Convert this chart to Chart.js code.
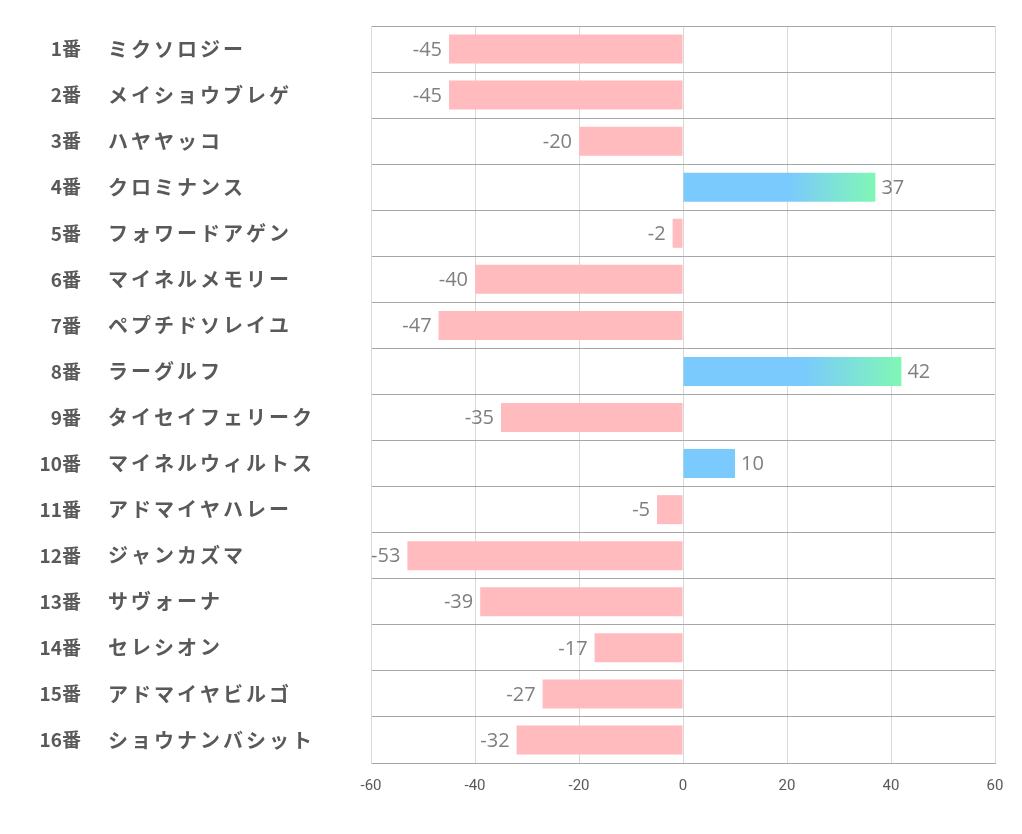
<!DOCTYPE html>
<html>
<head>
<meta charset="utf-8">
<script src="https://cdn.jsdelivr.net/npm/chart.js@4.4.1/dist/chart.umd.min.js"></script>
<style>
html,body{margin:0;padding:0;background:#fff;}
#wrap{width:1022px;height:834px;position:relative;}
</style>
</head>
<body>
<div id="wrap"><canvas id="c" width="1022" height="834"></canvas></div>
<script>
const numbers = ["1番","2番","3番","4番","5番","6番","7番","8番","9番","10番","11番","12番","13番","14番","15番","16番"];
const names = ["ミクソロジー","メイショウブレゲ","ハヤヤッコ","クロミナンス","フォワードアゲン","マイネルメモリー","ペプチドソレイユ","ラーグルフ","タイセイフェリーク","マイネルウィルトス","アドマイヤハレー","ジャンカズマ","サヴォーナ","セレシオン","アドマイヤビルゴ","ショウナンバシット"];
const values = [-45,-45,-20,37,-2,-40,-47,42,-35,10,-5,-53,-39,-17,-27,-32];
const xTicks = [-60,-40,-20,0,20,40,60];

const labels = numbers.map((n,i)=>n+"　"+names[i]);
const BLUE = "#7ACAFD", GREEN = "#80F7B5", PINK = "#FFBBBD";

function barColor(ctx){
  const v = ctx.raw;
  if (v < 0) return PINK;
  const chart = ctx.chart;
  const xs = chart.scales.x;
  if (!xs || v < 20) return BLUE;
  const x0 = xs.getPixelForValue(0), x1 = xs.getPixelForValue(v);
  const g = chart.ctx.createLinearGradient(x0,0,x1,0);
  g.addColorStop(0, BLUE);
  g.addColorStop(0.55, BLUE);
  g.addColorStop(1, GREEN);
  return g;
}

const labelPlugin = {
  id:'labelPlugin',
  afterDraw(chart){
    const ctx = chart.ctx;
    const ys = chart.scales.y;
    ctx.save();
    ctx.fillStyle = "#595959";
    ctx.textBaseline = "middle";
    numbers.forEach((n,i)=>{
      const y = ys.getPixelForValue(i);
      ctx.font = "bold 19px 'Noto Sans CJK JP', sans-serif";
      ctx.textAlign = "right";
      ctx.letterSpacing = "0px";
      ctx.fillText(n, 81, y);
      ctx.font = "bold 20px 'Noto Sans CJK JP', sans-serif";
      ctx.textAlign = "left";
      ctx.letterSpacing = "3px";
      ctx.fillText(names[i], 108, y);
    });
    ctx.letterSpacing = "0px";
    const meta = chart.getDatasetMeta(0);
    ctx.font = "20px 'Open Sans', 'Noto Sans', sans-serif";
    ctx.fillStyle = "#7F7F7F";
    meta.data.forEach((bar,i)=>{
      const v = values[i];
      if (v < 0){
        ctx.textAlign = "right";
        ctx.fillText(String(v), bar.x - 7, bar.y + 1);
      } else {
        ctx.textAlign = "left";
        ctx.fillText(String(v), bar.x + 6, bar.y + 1);
      }
    });
    ctx.restore();
  }
};

new Chart(document.getElementById('c'), {
  type:'bar',
  data:{
    labels: labels,
    datasets:[{
      data: values,
      backgroundColor: barColor,
      borderWidth: 0,
      barPercentage: 0.63,
      categoryPercentage: 1.0
    }]
  },
  options:{
    indexAxis:'y',
    responsive:false,
    animation:false,
    events:[],
    layout:{padding:{left:371,right:27,top:26,bottom:25}},
    plugins:{legend:{display:false},tooltip:{enabled:false}},
    scales:{
      x:{
        min:-60,max:60,
        afterBuildTicks(scale){ scale.ticks = xTicks.map(v=>({value:v})); },
        grid:{color:"#D9D9D9",lineWidth:1,drawTicks:false},
        border:{color:"#A6A6A6",width:1},
        ticks:{color:"#595959",padding:14,font:{size:15,family:"'Liberation Sans Narrow','Roboto',sans-serif"}}
      },
      y:{
        grid:{color:"#A6A6A6",lineWidth:1,drawTicks:false,offset:true},
        border:{color:"#D9D9D9",width:1},
        ticks:{display:false}
      }
    }
  },
  plugins:[labelPlugin]
});
</script>
</body>
</html>
